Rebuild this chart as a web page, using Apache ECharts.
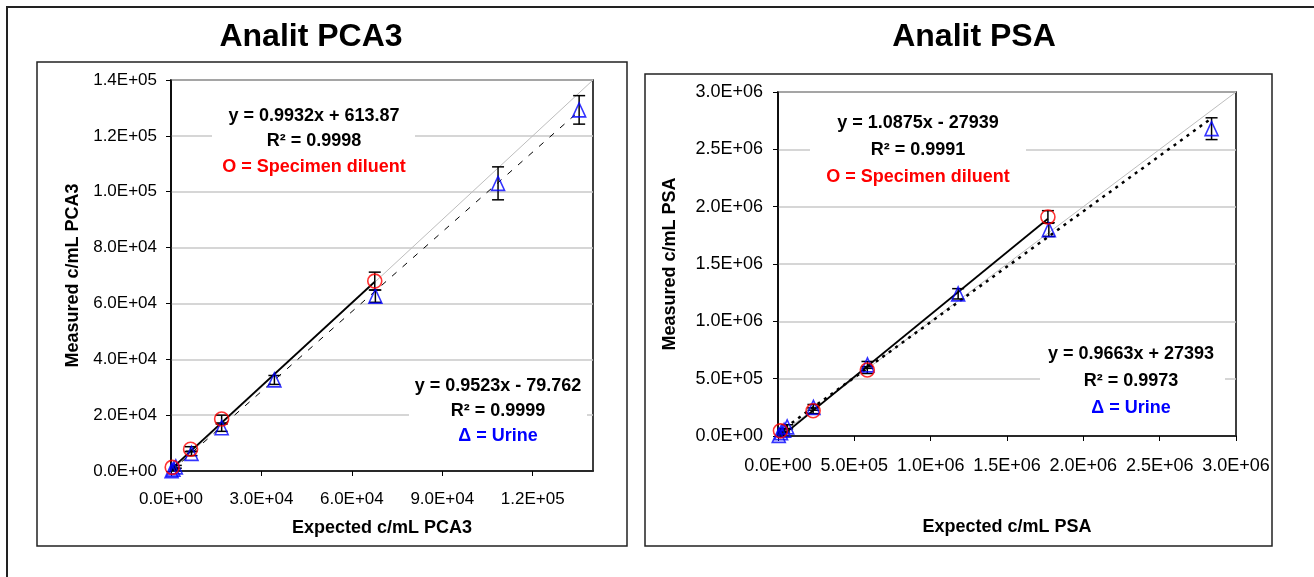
<!DOCTYPE html>
<html>
<head>
<meta charset="utf-8">
<script src="https://cdn.jsdelivr.net/npm/echarts@6/dist/echarts.min.js"></script>
<style>
  html, body { margin: 0; padding: 0; background: #fff; }
  #main { width: 1314px; height: 577px; }
</style>
</head>
<body>
<div id="main"></div>
<script>
// PCA3 - specimen diluent (circles) and urine (triangles)
var pcaDiluentX = [400, 6500, 16800, 67600];
var pcaDiluentY = [1300, 7800, 18600, 68000];
var pcaDiluentErr = [600, 900, 1400, 3200];
var pcaUrineX = [200, 800, 1600, 6800, 16800, 34300, 67800, 108500, 135400];
var pcaUrineY = [150, 700, 1500, 6300, 15500, 32600, 62600, 103000, 129300];
var pcaUrineErr = [300, 400, 500, 800, 1300, 1600, 2200, 5900, 5100];
var pcaDiluentFit = [0.9932, 613.87];
var pcaUrineFit = [0.9523, -79.762];

// PSA
var psaDiluentX = [16000, 230000, 585000, 1768000];
var psaDiluentY = [45000, 220000, 575000, 1910000];
var psaDiluentErr = [20000, 25000, 30000, 55000];
var psaUrineX = [5000, 20000, 40000, 60000, 232000, 586000, 1180000, 1774000, 2840000];
var psaUrineY = [5000, 30000, 50000, 80000, 250000, 620000, 1240000, 1800000, 2680000];
var psaUrineErr = [10000, 12000, 15000, 18000, 25000, 30000, 45000, 60000, 95000];
var psaDiluentFit = [1.0875, -27939];
var psaUrineFit = [0.9663, 27393];

var pcaMax = 140000, psaMax = 3000000;

var FONT = '"Liberation Sans", Arial, sans-serif';

function sci(v) {
    var s = Number(v).toExponential(1).split('e');
    var exp = parseInt(s[1], 10);
    var sign = exp < 0 ? '-' : '+';
    exp = Math.abs(exp);
    return s[0] + 'E' + sign + (exp < 10 ? '0' + exp : exp);
}

function zip(xs, ys, es) {
    var out = [];
    for (var i = 0; i < xs.length; i++) {
        out.push(es ? [xs[i], ys[i], es[i]] : [xs[i], ys[i]]);
    }
    return out;
}

function fitLine(fit, xs) {
    var x0 = Math.min.apply(null, xs), x1 = Math.max.apply(null, xs);
    return [[x0, fit[0] * x0 + fit[1]], [x1, fit[0] * x1 + fit[1]]];
}

function errorBar(params, api) {
    var x = api.value(0), y = api.value(1), e = api.value(2);
    var hi = api.coord([x, y + e]);
    var lo = api.coord([x, y - e]);
    var w = 6;
    var st = { stroke: '#000', lineWidth: 1.5 };
    return {
        type: 'group',
        children: [
            { type: 'line', shape: { x1: hi[0], y1: hi[1], x2: lo[0], y2: lo[1] }, style: st },
            { type: 'line', shape: { x1: hi[0] - w, y1: hi[1], x2: hi[0] + w, y2: hi[1] }, style: st },
            { type: 'line', shape: { x1: lo[0] - w, y1: lo[1], x2: lo[0] + w, y2: lo[1] }, style: st }
        ]
    };
}

function valueAxis(idx, max, interval, fontSize, labelMargin, name, nameGap, isX, hideMax) {
    return {
        type: 'value',
        gridIndex: idx,
        min: 0,
        max: max,
        interval: interval,
        name: name,
        nameLocation: 'middle',
        nameGap: nameGap,
        nameTextStyle: { fontFamily: FONT, fontWeight: 'bold', fontSize: 18, color: '#000' },
        axisLine: { show: true, onZero: false, lineStyle: { color: '#000', width: 1.5 } },
        axisTick: { show: true, inside: false, length: 5, lineStyle: { color: '#000', width: 1 } },
        axisLabel: {
            fontFamily: FONT, fontSize: fontSize, color: '#000', margin: labelMargin,
            showMaxLabel: !hideMax,
            formatter: sci
        },
        splitLine: isX ? { show: false } : { show: true, lineStyle: { color: '#c8c8c8', width: 1.5 } }
    };
}

function eqText(x, y, text, color, size) {
    return {
        type: 'text', x: x, y: y, z: 101,
        style: {
            text: text, fill: color, align: 'center', verticalAlign: 'middle',
            font: 'bold ' + size + 'px ' + FONT
        }
    };
}

function whiteBox(x, y, w, h) {
    return { type: 'rect', z: 100, shape: { x: x, y: y, width: w, height: h }, style: { fill: '#fff' } };
}

function frame(x, y, w, h, lw) {
    return { type: 'rect', z: 0, silent: true, shape: { x: x, y: y, width: w, height: h },
        style: { fill: 'none', stroke: '#222', lineWidth: lw } };
}

var circleStyle = { color: 'rgba(0,0,0,0)', borderColor: '#ff0000', borderWidth: 1.6 };
var triStyle = { color: 'rgba(0,0,0,0)', borderColor: '#0000ff', borderWidth: 1.6 };

function seriesFor(idx, max, dX, dY, dE, uX, uY, uE, dFit, uFit, urineDash, urineWidth) {
    return [
        { type: 'line', xAxisIndex: idx, yAxisIndex: idx, data: [[0, 0], [max, max]], symbol: 'none',
          silent: true, lineStyle: { color: '#bdbdbd', width: 1 }, z: 2 },
        { type: 'line', xAxisIndex: idx, yAxisIndex: idx, data: fitLine(uFit, uX), symbol: 'none',
          silent: true, lineStyle: { color: '#000', width: urineWidth, type: urineDash }, z: 3 },
        { type: 'line', xAxisIndex: idx, yAxisIndex: idx, data: fitLine(dFit, dX), symbol: 'none',
          silent: true, lineStyle: { color: '#000', width: 1.8 }, z: 3 },
        { type: 'custom', xAxisIndex: idx, yAxisIndex: idx, renderItem: errorBar, clip: true,
          data: zip(uX, uY, uE), z: 4 },
        { type: 'custom', xAxisIndex: idx, yAxisIndex: idx, renderItem: errorBar, clip: true,
          data: zip(dX, dY, dE), z: 4 },
        { type: 'scatter', xAxisIndex: idx, yAxisIndex: idx, data: zip(uX, uY), symbol: 'triangle',
          symbolSize: [13, 14], itemStyle: triStyle, z: 5 },
        { type: 'scatter', xAxisIndex: idx, yAxisIndex: idx, data: zip(dX, dY), symbol: 'circle',
          symbolSize: 14, itemStyle: circleStyle, z: 6 }
    ];
}

var myChart = echarts.init(document.getElementById('main'));

var option = {
    animation: false,
    backgroundColor: '#fff',
    grid: [
        { left: 171, top: 80, width: 422, height: 391, show: true, borderColor: '#000', borderWidth: 1.5,
          backgroundColor: 'transparent' },
        { left: 778, top: 92, width: 458, height: 344, show: true, borderColor: '#000', borderWidth: 1.5,
          backgroundColor: 'transparent' }
    ],
    xAxis: [
        valueAxis(0, pcaMax, 30000, 17, 20, 'Expected c/mL PCA3', 48, true, true),
        valueAxis(1, psaMax, 500000, 18, 21, 'Expected c/mL PSA', 82, true, false)
    ],
    yAxis: [
        valueAxis(0, pcaMax, 20000, 17, 14, 'Measured c/mL PCA3', 89, false, false),
        valueAxis(1, psaMax, 500000, 18, 15, 'Measured c/mL PSA', 99, false, false)
    ],
    series: [].concat(
        seriesFor(0, pcaMax, pcaDiluentX, pcaDiluentY, pcaDiluentErr, pcaUrineX, pcaUrineY, pcaUrineErr,
            pcaDiluentFit, pcaUrineFit, [6, 8], 1),
        seriesFor(1, psaMax, psaDiluentX, psaDiluentY, psaDiluentErr, psaUrineX, psaUrineY, psaUrineErr,
            psaDiluentFit, psaUrineFit, [3, 5], 2.5)
    ),
    graphic: [
        frame(7, 7, 1320, 600, 2),
        frame(37, 62, 590, 484, 1.5),
        frame(645, 74, 627, 472, 1.5),
        { type: 'text', x: 311, y: 37, style: { text: 'Analit PCA3', align: 'center', verticalAlign: 'middle',
            font: 'bold 32px ' + FONT, fill: '#000' } },
        { type: 'text', x: 974, y: 37, style: { text: 'Analit PSA', align: 'center', verticalAlign: 'middle',
            font: 'bold 32px ' + FONT, fill: '#000' } },

        whiteBox(212, 101, 203, 78),
        eqText(314, 116, 'y = 0.9932x + 613.87', '#000', 18),
        eqText(314, 141, 'R² = 0.9998', '#000', 18),
        eqText(314, 167, 'O = Specimen diluent', '#ff0000', 18),

        whiteBox(409, 372, 178, 76),
        eqText(498, 386, 'y = 0.9523x - 79.762', '#000', 18),
        eqText(498, 411, 'R² = 0.9999', '#000', 18),
        eqText(498, 436, 'Δ = Urine', '#0000ff', 18),

        whiteBox(810, 108, 216, 82),
        eqText(918, 123, 'y = 1.0875x - 27939', '#000', 18),
        eqText(918, 150, 'R² = 0.9991', '#000', 18),
        eqText(918, 177, 'O = Specimen diluent', '#ff0000', 18),

        whiteBox(1040, 340, 185, 80),
        eqText(1131, 354, 'y = 0.9663x + 27393', '#000', 18),
        eqText(1131, 381, 'R² = 0.9973', '#000', 18),
        eqText(1131, 408, 'Δ = Urine', '#0000ff', 18)
    ]
};

if (option && typeof option === "object") {
    myChart.setOption(option, true);
}
</script>
</body>
</html>
